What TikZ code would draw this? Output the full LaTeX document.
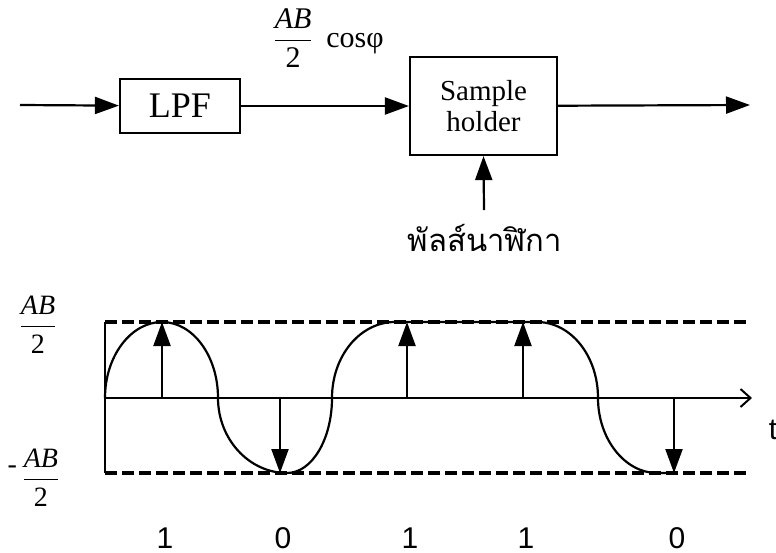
\documentclass[tikz,border=0pt]{standalone}
\usepackage{amsmath}
\usepackage{fontspec}
\setmainfont{Liberation Serif}
\newfontfamily\thaifont[Script=Thai]{Loma}
\newfontfamily\arialfont{Liberation Sans}
\usetikzlibrary{arrows.meta}
\newcommand{\halfamp}{\dfrac{\textit{AB}}{\textup{2}}}

\begin{document}
\begin{tikzpicture}[x=0.5pt,y=-0.5pt,
  blk/.style={draw,line width=1.1pt,inner sep=0pt},
  sig/.style={line width=1.1pt,-{Triangle[length=12pt,width=8.5pt]}},
  lvl/.style={line width=1.8pt,dash pattern=on 6pt off 2.5pt},
  bit/.style={font=\arialfont\fontsize{15}{15}\selectfont}]
  \useasboundingbox (0,0) rectangle (776,552);

  \coordinate (in) at (20,105);
  \node[blk,minimum width=60pt,minimum height=27pt,font=\fontsize{18}{18}\selectfont] (lpf) at (180,106) {LPF};
  \node[blk,minimum width=73.5pt,minimum height=49pt,align=center,font=\fontsize{14.5}{15.5}\selectfont] (sh) at (483.5,106) {Sample\\holder};
  \coordinate (out) at (750,105);
  \draw[sig] (in) -- (lpf);
  \draw[sig] (lpf) -- (sh);
  \draw[sig] (sh) -- (out);
  \node[font=\fontsize{15}{15}\selectfont] (gain) at (328,38) {$\halfamp$\, cosφ};
  \node[font=\thaifont\fontsize{15.5}{15.5}\selectfont] (clk) at (485,238) {พัลส์นาฬิกา};
  \coordinate (clkin) at (484,210);
  \draw[sig] (clkin) -- (sh.south);

  \coordinate (o) at (105,398);
  \coordinate (tend) at (752,398);
  \draw[lvl] (105,322) -- (748,322);
  \draw[lvl] (105,473) -- (748,473);
  \draw[line width=1.1pt] (105,322) -- (105,473);
  \draw[line width=1pt,-{Straight Barb[length=5pt,width=9pt]}] (o) -- (tend);
  \node[font=\arialfont\fontsize{15}{15}\selectfont] (tlab) at (773,430) {t};
  \node[font=\fontsize{14}{14}\selectfont] (vmax) at (38,325) {$\halfamp$};
  \node[font=\fontsize{14}{14}\selectfont] (vmin) at (34,478) {\raisebox{7pt}{-}\,$\halfamp$};

  \draw[line width=1.1pt] (o) .. controls +(0,-42) and +(-31,0) .. (162,322)
    .. controls +(31,0) and +(0,-42) .. (218,398)
    .. controls +(0,41) and +(-38,0) .. (287,473)
    .. controls +(25,0) and +(0,41) .. (332,398)
    .. controls +(0,-42) and +(-35,0) .. (395,322) -- (537,322)
    .. controls +(34,0) and +(0,-42) .. (598,398)
    .. controls +(0,41) and +(-32,0) .. (657,473) -- (677,473);

  \foreach \x/\b in {162/1,280/0,407/1,523/1,674/0} {
    \pgfmathsetmacro\ty{\b==1 ? 322 : 473}
    \draw[sig] (\x,398) -- (\x,\ty);
    \node[bit] (b\x) at (\x+3,538) {\b};
  }
\end{tikzpicture}
\end{document}
